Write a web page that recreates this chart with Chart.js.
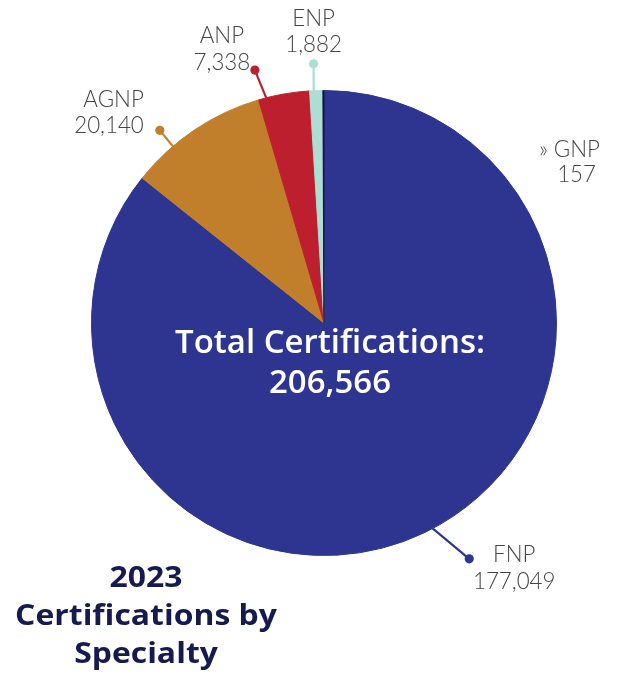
<!DOCTYPE html>
<html><head><meta charset="utf-8">
<script src="https://cdn.jsdelivr.net/npm/chart.js@4/dist/chart.umd.min.js"></script>
<style>html,body{margin:0;padding:0;background:#fff;overflow:hidden}#wrap{width:620px;height:679px;position:relative}</style>
</head><body><div id="wrap"><canvas id="c" width="620" height="679"></canvas></div>
<script>
// ---- data ----
const categories = ['FNP', 'AGNP', 'ANP', 'ENP', 'GNP'];
const certifications = [177049, 20140, 7338, 1882, 157];
const sliceColors = ['#2E3591', '#C17F2B', '#BE1F2F', '#ADDDD3', '#10134A'];
const centerHeading = 'Total Certifications:';
const titleLines = ['2023', 'Certifications by', 'Specialty'];

const fmt = v => v.toLocaleString('en-US');
const total = certifications.reduce((a, b) => a + b, 0);

// ---- label styling (positions relative to the arcs) ----
const labelStyle = {
  FNP:  {frac: 0.494, lead: [37.6, 29.7], tx: 45, ty: [3, 30], align: 'center'},
  AGNP: {frac: 0.31,  lead: [-13, -16],   tx: -16, ty: [-23, 3], align: 'right'},
  ANP:  {frac: 0.16,  lead: [-11.7, -27.6], tx: -33, ty: [-27, 0], align: 'center'},
  ENP:  {frac: 0.3,   lead: [0, -27],     tx: 0, ty: [-38, -12], align: 'center'},
  GNP:  {center: [276, -166, -141], align: 'right', prefix: '\u00BB '}
};
const LABEL_FONT = '300 24px Lato';
const LABEL_SX = 0.93;
const LABEL_COLOR = '#454545';

function drawScaled(ctx, text, x, y, align, sx) {
  ctx.save();
  ctx.translate(x, y);
  ctx.scale(sx, 1);
  ctx.textAlign = align;
  ctx.textBaseline = 'alphabetic';
  ctx.fillText(text, 0, 0);
  ctx.restore();
}

const annotations = {
  id: 'annotations',
  afterDatasetsDraw(chart) {
    const ctx = chart.ctx;
    const meta = chart.getDatasetMeta(0);
    let cx = 0, cy = 0;
    meta.data.forEach((arc, i) => {
      const p = arc.getProps(['x', 'y', 'startAngle', 'endAngle', 'outerRadius'], true);
      cx = p.x; cy = p.y;
      const name = categories[i];
      const st = labelStyle[name];
      const color = sliceColors[i];
      ctx.fillStyle = LABEL_COLOR;
      ctx.font = LABEL_FONT;
      const lines = [(st.prefix || '') + name, fmt(certifications[i])];
      if (st.center) {
        drawScaled(ctx, lines[0], p.x + st.center[0], p.y + st.center[1], st.align, LABEL_SX);
        drawScaled(ctx, lines[1], p.x + st.center[0] - 4, p.y + st.center[2], st.align, LABEL_SX);
        return;
      }
      const a = p.startAngle + (p.endAngle - p.startAngle) * st.frac;
      const ex = p.x + (p.outerRadius - 3) * Math.cos(a);
      const ey = p.y + (p.outerRadius - 3) * Math.sin(a);
      const dx = ex + 3 * Math.cos(a) + st.lead[0];
      const dy = ey + 3 * Math.sin(a) + st.lead[1];
      ctx.save();
      ctx.strokeStyle = color;
      ctx.lineWidth = 2.2;
      ctx.beginPath();
      ctx.moveTo(ex, ey);
      ctx.lineTo(dx, dy);
      ctx.stroke();
      ctx.fillStyle = color;
      ctx.beginPath();
      ctx.arc(dx, dy, 4.6, 0, Math.PI * 2);
      ctx.fill();
      ctx.restore();
      ctx.fillStyle = LABEL_COLOR;
      ctx.font = LABEL_FONT;
      drawScaled(ctx, lines[0], dx + st.tx, dy + st.ty[0], st.align, LABEL_SX);
      drawScaled(ctx, lines[1], dx + st.tx, dy + st.ty[1], st.align, LABEL_SX);
    });
    // center text
    ctx.fillStyle = '#ffffff';
    ctx.font = '600 32px "Open Sans"';
    drawScaled(ctx, centerHeading, cx + 6, cy + 30, 'center', 1.03);
    drawScaled(ctx, fmt(total), cx + 6, cy + 70, 'center', 1.03);
    // title
    ctx.fillStyle = '#161A4D';
    ctx.font = '700 29px "Open Sans"';
    titleLines.forEach((t, k) => {
      drawScaled(ctx, t, 146, 587 + k * 38, 'center', 1.1);
    });
  }
};

new Chart(document.getElementById('c'), {
  type: 'pie',
  data: {
    labels: categories,
    datasets: [{
      data: certifications,
      backgroundColor: sliceColors,
      borderColor: sliceColors,
      borderWidth: 1
    }]
  },
  options: {
    responsive: false,
    animation: false,
    layout: {padding: {left: 91, right: 63, top: 90, bottom: 123}},
    plugins: {legend: {display: false}, tooltip: {enabled: false}, title: {display: false}}
  },
  plugins: [annotations]
});
</script>
</body></html>
